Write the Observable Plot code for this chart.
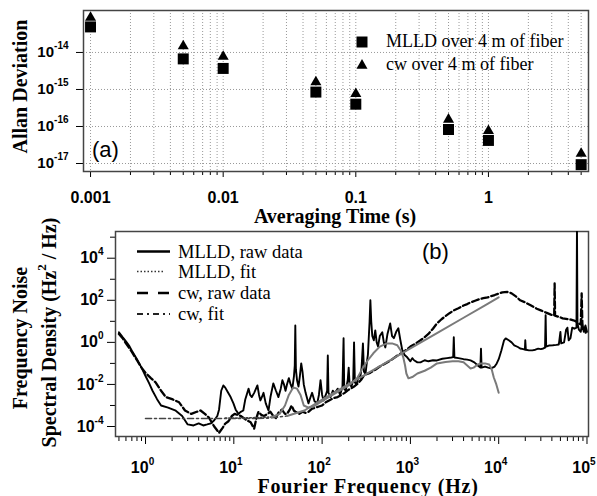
<!DOCTYPE html>
<html><head><meta charset="utf-8">
<script src="https://cdn.jsdelivr.net/npm/d3@7"></script>
<script src="https://cdn.jsdelivr.net/npm/@observablehq/plot@0.6"></script>
<style>
body{margin:0;background:#fff;}
#root{position:relative;width:597px;height:496px;overflow:hidden;background:#fff;}
#root > svg{position:absolute;left:0;}
</style></head><body><div id="root"></div>
<script>
// ---------- Panel (a): Allan deviation ----------
const tauS      = [0.001, 0.005, 0.01, 0.05, 0.1, 0.5, 1, 5];
const mlldAllan = [4.9e-14, 6.7e-15, 3.7e-15, 8.5e-16, 4.0e-16, 8.3e-17, 4.2e-17, 9.3e-18];
const cwAllan   = [8.7e-14, 1.48e-14, 7.7e-15, 1.58e-15, 7.6e-16, 1.55e-16, 7.6e-17, 1.86e-17];
const tauTicks = [0.001, 0.01, 0.1, 1];
const tauTickLabels = ["0.001", "0.01", "0.1", "1"];
const allanTicks = [1e-17, 1e-16, 1e-15, 1e-14];
const allanTickLabels = ["10^-17", "10^-16", "10^-15", "10^-14"];
const legendA = ["MLLD over 4 m of fiber", "cw over 4 m of fiber"];

// ---------- Panel (b): frequency noise PSD, pairs [Hz, log10(PSD)] ----------
const mlldRaw = [
[0.5,0.48],[0.55,0.25],[0.6,0.05],[0.65,-0.15],[0.7,-0.4],[0.8,-0.8],[0.9,-1.2],[1.0,-1.6],[1.1,-1.95],[1.2,-2.3],
[1.35,-2.7],[1.5,-3.0],[1.8,-3.1],[2.2,-3.25],[2.6,-3.5],[3.0,-3.9],[3.5,-3.95],[4.0,-3.85],[4.5,-3.95],[5.0,-3.9],
[5.5,-3.85],[6.0,-3.7],[6.5,-3.5],[6.8,-3.2],[7.2,-2.3],[7.6,-2.05],[8.0,-2.15],[8.5,-2.35],[9.2,-2.6],[9.9,-2.9],
[10.5,-3.2],[11.3,-3.4],[12.0,-3.3],[12.8,-3.24],[13.5,-2.7],[14.7,-2.2],[15.3,-2.5],[16,-2.6],[17,-2.4],[18.5,-2.05],
[19.3,-2.5],[20,-2.76],[21,-2.55],[21.7,-2.4],[23,-2.9],[24.7,-3.24],[26,-2.6],[28,-1.95],[30,-2.3],[32,-2.6],
[34,-2.2],[35.5,-1.8],[37,-2.0],[38.5,-2.3],[40,-2.0],[42,-1.7],[44,-2.0],[46,-2.2],[48,-1.6],[49,-1.1],
[49.7,0.8],[50.5,-1.3],[52,-1.8],[54,-2.1],[56,-1.6],[58,-1.0],[60,-1.4],[62,-2.0],[65,-2.4],[70,-2.9],
[74,-2.6],[77,-2.4],[82,-2.8],[88,-2.9],[92,-2.5],[96,-1.8],[100,-2.5],[104,-2.76],[110,-2.5],[114,-2.3],
[116,-0.62],[118,-2.4],[125,-2.6],[132,-2.3],[140,-2.4],[150,-2.2],[160,-2.5],[170,-2.1],[175,0.2],[178,-2.2],
[185,-2.3],[195,-1.8],[200,-1.2],[205,-2.0],[215,-2.1],[225,-1.8],[230,0.0],[235,-1.9],[245,-2.0],[260,-1.6],
[270,-1.7],[280,-1.2],[290,-0.05],[298,-1.4],[310,-1.5],[320,-1.0],[330,-0.6],[345,1.0],[352,2.0],[360,1.0],
[370,0.3],[385,0.1],[400,0.57],[415,0.0],[430,-0.2],[450,0.3],[480,0.48],[500,0.0],[520,-0.24],[550,0.4],
[590,0.9],[620,0.3],[650,0.2],[690,0.5],[730,0.67],[770,0.1],[810,-0.38],[860,-0.6],[920,-0.71],[1000,-0.9],
[1050,-0.75],[1100,-0.85],[1200,-0.95],[1300,-0.95],[1450,-0.85],[1600,-0.9],[1800,-0.85],[2000,-0.86],[2300,-0.78],[2600,-0.75],
[2900,-0.72],[3050,-0.7],[3100,0.24],[3150,-0.72],[3500,-0.75],[4000,-0.8],[4400,-0.82],[4800,-0.86],[5300,-0.95],[5800,-1.1],
[6200,-1.2],[6300,-0.3],[6400,-1.2],[7000,-1.15],[7600,-1.2],[8200,-1.24],[9000,-1.15],[9500,-1.0],[10000,-0.8],[10700,-0.4],
[11500,0.1],[12000,0.19],[13000,0.1],[14000,0.0],[15000,-0.14],[16500,-0.22],[17500,-0.29],[19000,-0.32],[19800,-0.35],[20000,0.1],
[20300,-0.35],[22000,-0.38],[24000,-0.38],[26000,-0.35],[28000,-0.3],[30000,-0.32],[32000,-0.29],[33500,-0.25],[34000,1.29],[34500,-0.2],
[37000,-0.15],[41000,-0.14],[45000,-0.12],[48000,-0.1],[50000,0.5],[51000,-0.05],[55000,0.0],[58000,0.6],[60000,0.7],[62000,0.1],
[65000,0.2],[68000,0.7],[72000,0.65],[76000,0.7],[77000,5.5],[78000,0.9],[81000,0.6],[85000,0.5],[88000,0.9],[92000,0.5],
[96000,0.8],[100000,0.5]
];
const cwRaw = [
[0.5,0.4],[0.55,0.2],[0.6,-0.05],[0.7,-0.45],[0.8,-0.85],[0.9,-1.2],[1.0,-1.45],[1.15,-1.7],[1.3,-1.9],[1.5,-2.3],
[1.7,-2.6],[2.0,-2.7],[2.4,-2.85],[2.8,-3.24],[3.3,-3.4],[3.8,-3.3],[4.2,-3.24],[4.7,-3.4],[5.2,-3.57],[6.0,-4.0],
[6.8,-4.3],[7.5,-4.05],[8.0,-3.86],[8.7,-3.75],[9.5,-3.5],[10.2,-3.4],[11,-3.45],[12,-3.5],[13,-3.6],[14,-3.7],
[15.5,-3.8],[17,-4.1],[18,-3.6],[19,-3.3],[20.5,-3.45],[22,-3.5],[24,-3.4],[26,-3.3],[28,-3.5],[30,-3.6],
[32,-3.35],[35,-3.2],[38,-3.4],[40,-3.4],[43,-3.2],[45,-3.0],[48,-3.25],[50,-3.3],[55,-3.4],[60,-3.3],
[65,-3.35],[70,-3.3],[77,-3.15],[85,-3.1],[92,-3.05],[100,-3.0],[110,-2.85],[120,-2.76],[135,-2.65],[150,-2.6],
[165,-2.5],[180,-2.4],[200,-2.25],[230,-2.1],[255,-1.95],[280,-1.75],[300,-1.55],[350,-1.45],[400,-1.3],[450,-1.15],
[520,-1.0],[600,-0.85],[700,-0.65],[800,-0.5],[900,-0.35],[1000,-0.2],[1150,-0.05],[1300,0.1],[1450,0.25],[1600,0.4],
[1800,0.65],[2000,0.9],[2250,1.1],[2500,1.25],[2800,1.4],[3100,1.52],[3500,1.62],[4000,1.75],[4400,1.82],[4800,1.9],
[5400,1.98],[6000,2.05],[6700,2.1],[7500,2.14],[8200,2.2],[9000,2.25],[10000,2.32],[11000,2.38],[12500,2.4],[14000,2.33],
[15500,2.2],[17500,2.0],[20000,1.9],[23000,1.76],[27000,1.6],[30000,1.52],[35000,1.4],[39000,1.32],[41000,1.29],[42500,1.27],
[43000,2.8],[43500,1.27],[45000,1.25],[49000,1.2],[53000,1.14],[58000,1.12],[62000,1.1],[66000,1.08],[70000,1.05],[75000,1.0],
[80000,0.9],[85000,0.85],[87000,2.33],[89000,0.6],[93000,0.7],[97000,0.45],[100000,0.5]
];
const mlldFit = [
[8,-3.6],[12,-3.6],[20,-3.57],[27,-3.55],[33,-3.4],[38,-3.0],[42,-2.5],[47,-2.15],[52,-2.2],[57,-2.5],
[62,-3.0],[70,-3.1],[80,-3.05],[100,-2.8],[150,-2.35],[200,-2.05],[250,-1.7],[290,-1.2],[330,-0.85],[380,-0.52],
[450,-0.2],[540,-0.05],[620,-0.05],[710,-0.14],[780,-0.4],[830,-0.71],[870,-1.1],[900,-1.48],[950,-1.71],[1050,-1.65],
[1200,-1.48],[1450,-1.35],[1700,-1.2],[2000,-1.0],[2500,-0.93],[3000,-0.9],[3500,-0.9],[4000,-0.95],[4400,-1.1],[4800,-1.24],
[5200,-1.2],[5800,-1.05],[6300,-1.0],[7000,-1.0],[7800,-1.05],[8300,-1.25],[8800,-1.67],[9400,-2.0],[10000,-2.4]
];
const cwFit = [
[1,-3.62],[2,-3.62],[4,-3.62],[8,-3.62],[15,-3.62],[25,-3.6],[40,-3.5],[63,-3.24],[100,-2.72],[200,-1.99],
[400,-1.26],[700,-0.67],[1000,-0.29],[2000,0.44],[4000,1.17],[7000,1.76],[10000,2.14]
];
const freqTicks = [1, 10, 100, 1000, 10000, 100000];
const freqTickLabels = ["10^0", "10^1", "10^2", "10^3", "10^4", "10^5"];
const psdTicks = [1e-4, 1e-2, 1, 1e2, 1e4];
const psdTickLabels = ["10^-4", "10^-2", "10^0", "10^2", "10^4"];
const psdMinorTicks = [1e-3, 1e-1, 10, 1e3, 1e5];
const legendB = ["MLLD, raw data", "MLLD, fit", "cw, raw data", "cw, fit"];

// ---------- helpers ----------
const root = document.getElementById("root");
const sansBold = {fontFamily: "'Liberation Sans', Arial, Helvetica, sans-serif", fontWeight: "bold", color: "#000", background: "transparent", overflow: "visible"};
const lookup = (ticks, labels) => d => { const i = ticks.findIndex(t => Math.abs(t - d) / t < 1e-9); return i < 0 ? "" : labels[i]; };
function supify(svg) {
  d3.select(svg).selectAll("text").each(function () {
    const m = /^10\^(.+)$/.exec(this.textContent);
    if (!m) return;
    const s = d3.select(this);
    s.text("10");
    s.append("tspan").attr("dy", -8).attr("font-size", 10).text(m[1]);
  });
}
const toRows = arr => arr.map(([hz, lp]) => ({hz, psd: 10 ** lp}));

// ---------- Plot (a) ----------
const rowsA = tauS.map((t, i) => ({tau: t, mlld: mlldAllan[i], cw: cwAllan[i]}));
const gridTau = d3.scaleLog().domain([0.001, 5]).ticks();
const minorTau = gridTau.filter(v => !tauTicks.some(m => Math.abs(m - v) / m < 1e-9));
const plotA = Plot.plot({
  width: 597, height: 206, marginLeft: 83, marginRight: 9, marginTop: 10, marginBottom: 35,
  x: {type: "log", domain: [0.000885, 5.68]},
  y: {type: "log", domain: [6.08e-18, 1.36e-13]},
  style: {...sansBold, fontSize: "15px"},
  marks: [
    Plot.gridX(gridTau, {stroke: "#999", strokeOpacity: 1, strokeDasharray: "1,2"}),
    Plot.gridY(allanTicks, {stroke: "#999", strokeOpacity: 1, strokeDasharray: "1,2"}),
    Plot.axisX(minorTau, {tickSize: 4, tickFormat: () => "", label: null}),
    Plot.axisX(tauTicks, {tickSize: 6, tickPadding: 14, fontSize: 16, tickFormat: lookup(tauTicks, tauTickLabels), label: null}),
    Plot.axisY(allanTicks, {tickSize: 7, tickPadding: 8, tickFormat: lookup(allanTicks, allanTickLabels), label: null}),
    Plot.frame({stroke: "#444", strokeWidth: 1.5}),
    Plot.dot(rowsA, {x: "tau", y: "mlld", symbol: "square", r: 6.2, fill: "#000"}),
    Plot.dot(rowsA, {x: "tau", y: "cw", symbol: "triangle", r: 4.1, fill: "#000"})
  ]
});
plotA.style.top = "0px";
supify(plotA);
root.appendChild(plotA);

// ---------- Plot (b) ----------
const minorFreq = d3.scaleLog().domain([0.5, 100000]).ticks().filter(v => !freqTicks.some(m => Math.abs(m - v) / m < 1e-9));
const mlldRawRows = toRows(mlldRaw), cwRawRows = toRows(cwRaw);
const mlldFitRows = toRows(mlldFit), cwFitRows = toRows(cwFit);
const plotB = Plot.plot({
  width: 597, height: 276, marginLeft: 115, marginRight: 9, marginTop: 11, marginBottom: 60,
  x: {type: "log", domain: [0.457, 104000]},
  y: {type: "log", domain: [10 ** -4.475, 10 ** 5.27]},
  style: {...sansBold, fontSize: "16px"},
  marks: [
    Plot.axisX(minorFreq, {tickSize: 5, tickFormat: () => "", label: null}),
    Plot.axisX(freqTicks, {tickSize: 8, tickPadding: 17, tickFormat: lookup(freqTicks, freqTickLabels), label: null}),
    Plot.axisY(psdMinorTicks, {tickSize: 5, tickFormat: () => "", label: null}),
    Plot.axisY(psdTicks, {tickSize: 8, tickPadding: 4, tickFormat: lookup(psdTicks, psdTickLabels), label: null}),
    Plot.frame({stroke: "#444", strokeWidth: 1.5}),
    Plot.line(mlldRawRows, {x: "hz", y: "psd", stroke: "#000", strokeWidth: 1.9, clip: true}),
    Plot.line(cwRawRows, {x: "hz", y: "psd", stroke: "#000", strokeWidth: 2.3, strokeDasharray: "7,3", clip: true}),
    Plot.line(cwFitRows.filter(d => d.hz <= 40), {x: "hz", y: "psd", stroke: "#444", strokeWidth: 1.6, strokeDasharray: "6,3,2,3", clip: true}),
    Plot.line(cwFitRows.filter(d => d.hz >= 40), {x: "hz", y: "psd", stroke: "#7a7a7a", strokeWidth: 2, clip: true}),
    Plot.line(mlldFitRows.filter(d => d.hz <= 27), {x: "hz", y: "psd", stroke: "#444", strokeWidth: 1.6, strokeDasharray: "1.5,2", clip: true}),
    Plot.line(mlldFitRows.filter(d => d.hz >= 27), {x: "hz", y: "psd", stroke: "#7a7a7a", strokeWidth: 2, clip: true})
  ]
});
plotB.style.top = "220px";
supify(plotB);
// nudge the bottom tick labels left a little so that the superscripts sit to the right, as in the reference
d3.select(plotB).selectAll('g[aria-label="x-axis tick label"] text').attr("dx", -3);
root.appendChild(plotB);

// ---------- titles, panel labels and legends ----------
const ov = d3.create("svg").attr("width", 597).attr("height", 496)
  .style("position", "absolute").style("left", "0px").style("top", "0px").style("pointer-events", "none");
const serif = "'Liberation Serif', 'Times New Roman', Times, serif";
const sans = "'Liberation Sans', Arial, Helvetica, sans-serif";
function title(x, y, txt, rot, extra) {
  const t = ov.append("text").attr("transform", `translate(${x},${y})` + (rot ? " rotate(-90)" : ""))
    .attr("text-anchor", "middle").attr("font-family", serif).attr("font-weight", "bold").attr("font-size", 20).text(txt);
  if (extra) extra(t);
  return t;
}
title(26.5, 86.5, "Allan Deviation", true);
title(335, 223, "Averaging Time (s)", false);
title(27, 338, "Frequency Noise", true);
title(56, 332.5, "", true, t => {
  t.append("tspan").text("Spectral Density (Hz");
  t.append("tspan").attr("dy", -10).attr("font-size", 13).text("2");
  t.append("tspan").attr("dy", 10).text(" / Hz)");
});
title(368, 493, "Fourier Frequency (Hz)", false, t => t.attr("letter-spacing", 0.8));
ov.append("text").attr("x", 92).attr("y", 157).attr("font-family", sans).attr("font-size", 22).text("(a)");
ov.append("text").attr("x", 422).attr("y", 259).attr("font-family", sans).attr("font-size", 22).text("(b)");

// legend (a)
ov.append("path").attr("transform", "translate(362,42)").attr("d", d3.symbol(d3.symbolSquare, Math.PI * 6.2 * 6.2)()).attr("fill", "#000");
ov.append("path").attr("transform", "translate(362,65.5)").attr("d", d3.symbol(d3.symbolTriangle, Math.PI * 4.1 * 4.1)()).attr("fill", "#000");
legendA.forEach((s, i) => ov.append("text").attr("x", 386).attr("y", [47, 69.5][i])
  .attr("font-family", serif).attr("font-size", 18).text(s));

// legend (b)
const legStyles = [
  {dash: null, w: 2.4, c: "#000"},
  {dash: "1.5,2", w: 1.4, c: "#333"},
  {dash: "11,10", w: 2.6, c: "#000"},
  {dash: "6,4,2,4", w: 1.8, c: "#222"}
];
legendB.forEach((s, i) => {
  const ly = [251.5, 271.5, 293, 314][i];
  const ln = ov.append("line").attr("x1", 137).attr("x2", i === 1 ? 163 : 170).attr("y1", ly).attr("y2", ly)
    .attr("stroke", legStyles[i].c).attr("stroke-width", legStyles[i].w);
  if (legStyles[i].dash) ln.attr("stroke-dasharray", legStyles[i].dash);
  ov.append("text").attr("x", 178).attr("y", [258, 278, 299, 320][i])
    .attr("font-family", serif).attr("font-size", 18.5).text(s);
});
root.appendChild(ov.node());
</script></body></html>
